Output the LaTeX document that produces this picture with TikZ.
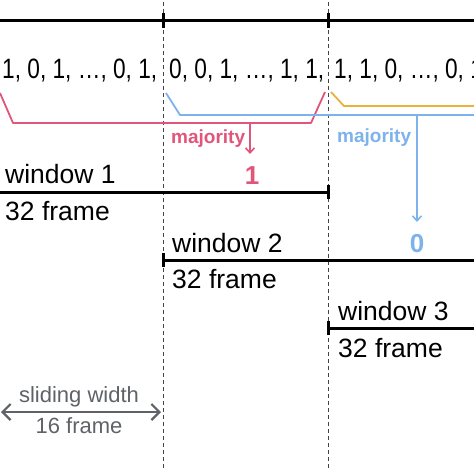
\documentclass[tikz,border=0pt]{standalone}
\usepackage{fontspec}
\usepackage{graphicx}
\setmainfont{Liberation Sans}
\usetikzlibrary{arrows.meta}
\definecolor{cred}{HTML}{E2557A}
\definecolor{cblue}{HTML}{7DB2EA}
\definecolor{cyel}{HTML}{E9B23C}
\definecolor{cgray}{HTML}{5F6368}
\definecolor{cdash}{HTML}{444444}
\begin{document}
\begin{tikzpicture}[x=1pt,y=-1pt,
  txt/.style={inner sep=0pt, anchor=base west, font=\fontsize{26.5}{30}\selectfont},
  nums/.style={inner sep=0pt, anchor=base west, font=\fontsize{28}{30}\selectfont},
  maj/.style={inner sep=0pt, anchor=base west, font=\bfseries\fontsize{19}{22}\selectfont},
  res/.style={inner sep=0pt, anchor=base, font=\bfseries\fontsize{26}{28}\selectfont},
  gtxt/.style={inner sep=0pt, anchor=base, text=cgray, font=\fontsize{22}{24}\selectfont},
  blk/.style={line width=3pt, black},
  dashline/.style={cdash, line width=0.9pt, dash pattern=on 4pt off 3pt},
  bracket/.style={line width=1.8pt},
  tipb/.style={-{Straight Barb[length=5pt,width=9pt,line width=1.6pt]}}
]
\clip (0,0) rectangle (474,474);
\fill[white] (0,0) rectangle (474,474);

% coordinates
\coordinate (d1t) at (163,2);   \coordinate (d1b) at (163,470);
\coordinate (d2t) at (328,2);   \coordinate (d2b) at (328,470);

% dashed separators
\draw[dashline] (d1t) -- (d1b);
\draw[dashline] (d2t) -- (d2b);

% top time line
\coordinate (tl) at (0,20); \coordinate (tr) at (474,20);
\draw[blk] (tl) -- (tr);
\coordinate (tk1a) at (163,13); \coordinate (tk1b) at (163,28);
\coordinate (tk2a) at (328,13); \coordinate (tk2b) at (328,28);
\draw[blk] (tk1a) -- (tk1b);
\draw[blk] (tk2a) -- (tk2b);

% number sequences
\node[nums] (n1) at (2,78) {\scalebox{0.81}[1]{1, 0, 1, …, 0, 1,}};
\node[nums] (n2) at (169,78) {\scalebox{0.81}[1]{0, 0, 1, …, 1, 1,}};
\node[nums] (n3) at (334,78) {\scalebox{0.81}[1]{1, 1, 0, …, 0, 1}};

% red bracket (window 1)
\coordinate (r0) at (0,93); \coordinate (r1) at (13,123);
\coordinate (r2) at (311,123); \coordinate (r3) at (325,92);
\draw[cred, bracket, line join=round] (r0) -- (r1) -- (r2) -- (r3);
\coordinate (ra) at (250,123); \coordinate (rb) at (250,154);
\draw[cred, line width=1.6pt, tipb] (ra) -- (rb);
\node[maj, text=cred] (m1) at (171,143) {majority};
\node[res, text=cred] (o1) at (252,184) {1};

% blue bracket (window 2)
\coordinate (b0) at (166,93); \coordinate (b1) at (180,115);
\coordinate (b2) at (474,115);
\draw[cblue, bracket, line join=round] (b0) -- (b1) -- (b2);
\coordinate (ba) at (417,115); \coordinate (bb) at (417,222);
\draw[cblue, line width=1.6pt, tipb] (ba) -- (bb);
\node[maj, text=cblue] (m2) at (337,142) {majority};
\node[res, text=cblue] (o2) at (417,252) {0};

% yellow bracket (window 3)
\coordinate (y0) at (331,92); \coordinate (y1) at (344,106);
\coordinate (y2) at (474,106);
\draw[cyel, bracket, line join=round] (y0) -- (y1) -- (y2);

% window 1
\node[txt] (w1) at (5,183) {window 1};
\node[txt] (f1) at (5,220) {32 frame};
\coordinate (w1a) at (0,192); \coordinate (w1b) at (328,192);
\draw[blk] (w1a) -- (w1b);
\coordinate (w1t) at (328,185); \coordinate (w1u) at (328,199);
\draw[blk] (w1t) -- (w1u);

% window 2
\node[txt] (w2) at (172,252) {window 2};
\node[txt] (f2) at (172,288) {32 frame};
\coordinate (w2a) at (163,260); \coordinate (w2b) at (474,260);
\draw[blk] (w2a) -- (w2b);
\coordinate (w2t) at (163,253); \coordinate (w2u) at (163,267);
\draw[blk] (w2t) -- (w2u);

% window 3
\node[txt] (w3) at (338,320) {window 3};
\node[txt] (f3) at (338,357) {32 frame};
\coordinate (w3a) at (328,328); \coordinate (w3b) at (474,328);
\draw[blk] (w3a) -- (w3b);
\coordinate (w3t) at (328,321); \coordinate (w3u) at (328,335);
\draw[blk] (w3t) -- (w3u);

% sliding width
\coordinate (sa) at (1,412); \coordinate (sb) at (161,412);
\draw[cgray, line width=2.4pt, {Straight Barb[length=8pt,width=16pt,line width=2.2pt]}-{Straight Barb[length=8pt,width=16pt,line width=2.2pt]}] (sa) -- (sb);
\node[gtxt] (sw) at (79,402) {sliding width};
\node[gtxt] (sf) at (79,433) {16 frame};
\end{tikzpicture}
\end{document}
